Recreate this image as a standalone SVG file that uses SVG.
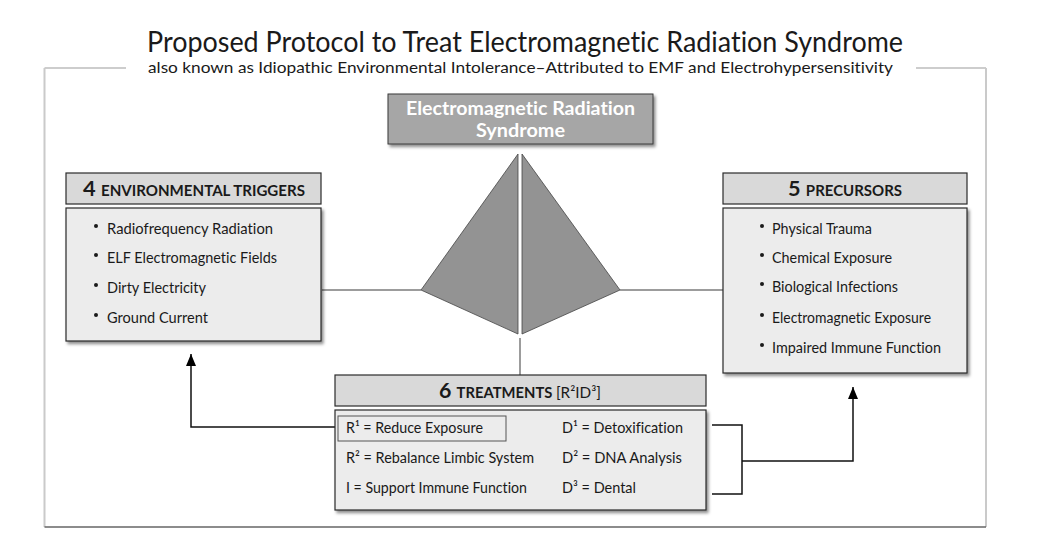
<svg xmlns="http://www.w3.org/2000/svg" width="1039" height="541" viewBox="0 0 1039 541">
<defs>
<filter id="sh" x="-10%" y="-10%" width="130%" height="140%">
<feDropShadow dx="2" dy="2.5" stdDeviation="1.6" flood-color="#000" flood-opacity="0.45"/>
</filter>
<marker id="ah" viewBox="0 0 12 10" refX="12" refY="5" markerWidth="12" markerHeight="10" markerUnits="userSpaceOnUse" orient="auto">
<path d="M0 0 L12 5 L0 10 Z" fill="#000"/>
</marker>
</defs>
<style>
text{font-family:Lato,"Open Sans","Liberation Sans",sans-serif;fill:#1a1a1a;font-variant-ligatures:none}
.title{font-size:28px}
.sub{font-size:16px}
.hdr{fill:#d9d9d9;stroke:#2b2b2b;stroke-width:1.2}
.body{fill:#ececec;stroke:#2b2b2b;stroke-width:1.2}
.big{font-size:21px;font-weight:700}
.cap{font-size:14.5px;font-weight:700}
.item{font-size:15px}
.dot{fill:#1a1a1a}
.gline{stroke:#9c9c9c;stroke-width:2;fill:none}
.bline{stroke:#111;stroke-width:1.5;fill:none}
.pyr{fill:#939393;stroke:#444;stroke-width:0.8}
</style>

<g id="frame" fill="none">
<path d="M44.5 68 H126" stroke="#bdbdbd" stroke-width="1.5"/>
<path d="M916 68 H986" stroke="#bdbdbd" stroke-width="1.5"/>
<path d="M44.5 68 V527" stroke="#cacaca" stroke-width="2"/>
<path d="M986 68 V527" stroke="#cacaca" stroke-width="2"/>
<path d="M44.5 527 H986" stroke="#666" stroke-width="1.5"/>
</g>

<g id="titles">
<text class="title" x="147" y="52" textLength="756" lengthAdjust="spacingAndGlyphs">Proposed Protocol to Treat Electromagnetic Radiation Syndrome</text>
<text class="sub" x="148" y="73" textLength="745" lengthAdjust="spacingAndGlyphs">also known as Idiopathic Environmental Intolerance–Attributed to EMF and Electrohypersensitivity</text>
</g>

<g id="connectors">
<path class="gline" d="M322 290 H421"/>
<path class="gline" d="M620 290 H723"/>
<path class="gline" d="M520 338 V375"/>
<path class="bline" d="M335 427 H191 V354" marker-end="url(#ah)"/>
<path class="bline" d="M712 425 H742 V494 H712"/>
<path class="bline" d="M742 461 H853 V387" marker-end="url(#ah)"/>
</g>

<g id="pyramid">
<polygon class="pyr" points="518,154 421,290 518,334"/>
<polygon class="pyr" points="522,154 620,290 522,334"/>
</g>

<g id="syndrome">
<rect x="388" y="94" width="265" height="50" fill="#a6a6a6" stroke="#3a3a3a" stroke-width="1" filter="url(#sh)"/>
<text x="520.5" y="115" text-anchor="middle" font-size="18.5" font-weight="700" style="fill:#fff" textLength="229" lengthAdjust="spacingAndGlyphs">Electromagnetic Radiation</text>
<text x="520.5" y="137" text-anchor="middle" font-size="18.5" font-weight="700" style="fill:#fff" textLength="89" lengthAdjust="spacingAndGlyphs">Syndrome</text>
</g>

<g id="triggers">
<rect class="hdr" x="66" y="173" width="255" height="31"/>
<text x="83" y="196" textLength="222" lengthAdjust="spacingAndGlyphs"><tspan class="big">4 </tspan><tspan class="cap">ENVIRONMENTAL TRIGGERS</tspan></text>
<rect class="body" x="66" y="208" width="255" height="133" filter="url(#sh)"/>
<circle class="dot" cx="96" cy="226" r="2"/>
<circle class="dot" cx="96" cy="255" r="2"/>
<circle class="dot" cx="96" cy="285" r="2"/>
<circle class="dot" cx="96" cy="315" r="2"/>
<text class="item" x="107" y="234" textLength="166" lengthAdjust="spacingAndGlyphs">Radiofrequency Radiation</text>
<text class="item" x="107" y="263" textLength="170" lengthAdjust="spacingAndGlyphs">ELF Electromagnetic Fields</text>
<text class="item" x="107" y="293" textLength="99" lengthAdjust="spacingAndGlyphs">Dirty Electricity</text>
<text class="item" x="107" y="323" textLength="101" lengthAdjust="spacingAndGlyphs">Ground Current</text>
</g>

<g id="precursors">
<rect class="hdr" x="723" y="173" width="244" height="31"/>
<text x="788" y="196" textLength="114" lengthAdjust="spacingAndGlyphs"><tspan class="big">5 </tspan><tspan class="cap">PRECURSORS</tspan></text>
<rect class="body" x="723" y="208" width="244" height="165" filter="url(#sh)"/>
<circle class="dot" cx="762" cy="226" r="2"/>
<circle class="dot" cx="762" cy="255" r="2"/>
<circle class="dot" cx="762" cy="284" r="2"/>
<circle class="dot" cx="762" cy="315" r="2"/>
<circle class="dot" cx="762" cy="345" r="2"/>
<text class="item" x="772" y="234" textLength="100" lengthAdjust="spacingAndGlyphs">Physical Trauma</text>
<text class="item" x="772" y="263" textLength="120" lengthAdjust="spacingAndGlyphs">Chemical Exposure</text>
<text class="item" x="772" y="292" textLength="126" lengthAdjust="spacingAndGlyphs">Biological Infections</text>
<text class="item" x="772" y="323" textLength="159" lengthAdjust="spacingAndGlyphs">Electromagnetic Exposure</text>
<text class="item" x="772" y="353" textLength="169" lengthAdjust="spacingAndGlyphs">Impaired Immune Function</text>
</g>

<g id="treatments">
<rect class="hdr" x="335" y="375" width="371" height="31"/>
<text x="439" y="398" textLength="162" lengthAdjust="spacingAndGlyphs"><tspan class="big">6 </tspan><tspan class="cap">TREATMENTS </tspan><tspan font-size="15" font-weight="400">[R²ID³]</tspan></text>
<rect class="body" x="335" y="410" width="371" height="100" filter="url(#sh)"/>
<rect x="338" y="416" width="168" height="25" fill="none" stroke="#555" stroke-width="1"/>
<text class="item" x="346" y="433" textLength="137" lengthAdjust="spacingAndGlyphs">R¹ = Reduce Exposure</text>
<text class="item" x="346" y="463" textLength="188" lengthAdjust="spacingAndGlyphs">R² = Rebalance Limbic System</text>
<text class="item" x="346" y="493" textLength="181" lengthAdjust="spacingAndGlyphs">I = Support Immune Function</text>
<text class="item" x="562" y="433" textLength="121" lengthAdjust="spacingAndGlyphs">D¹ = Detoxification</text>
<text class="item" x="562" y="463" textLength="120" lengthAdjust="spacingAndGlyphs">D² = DNA Analysis</text>
<text class="item" x="562" y="493" textLength="74" lengthAdjust="spacingAndGlyphs">D³ = Dental</text>
</g>
</svg>
